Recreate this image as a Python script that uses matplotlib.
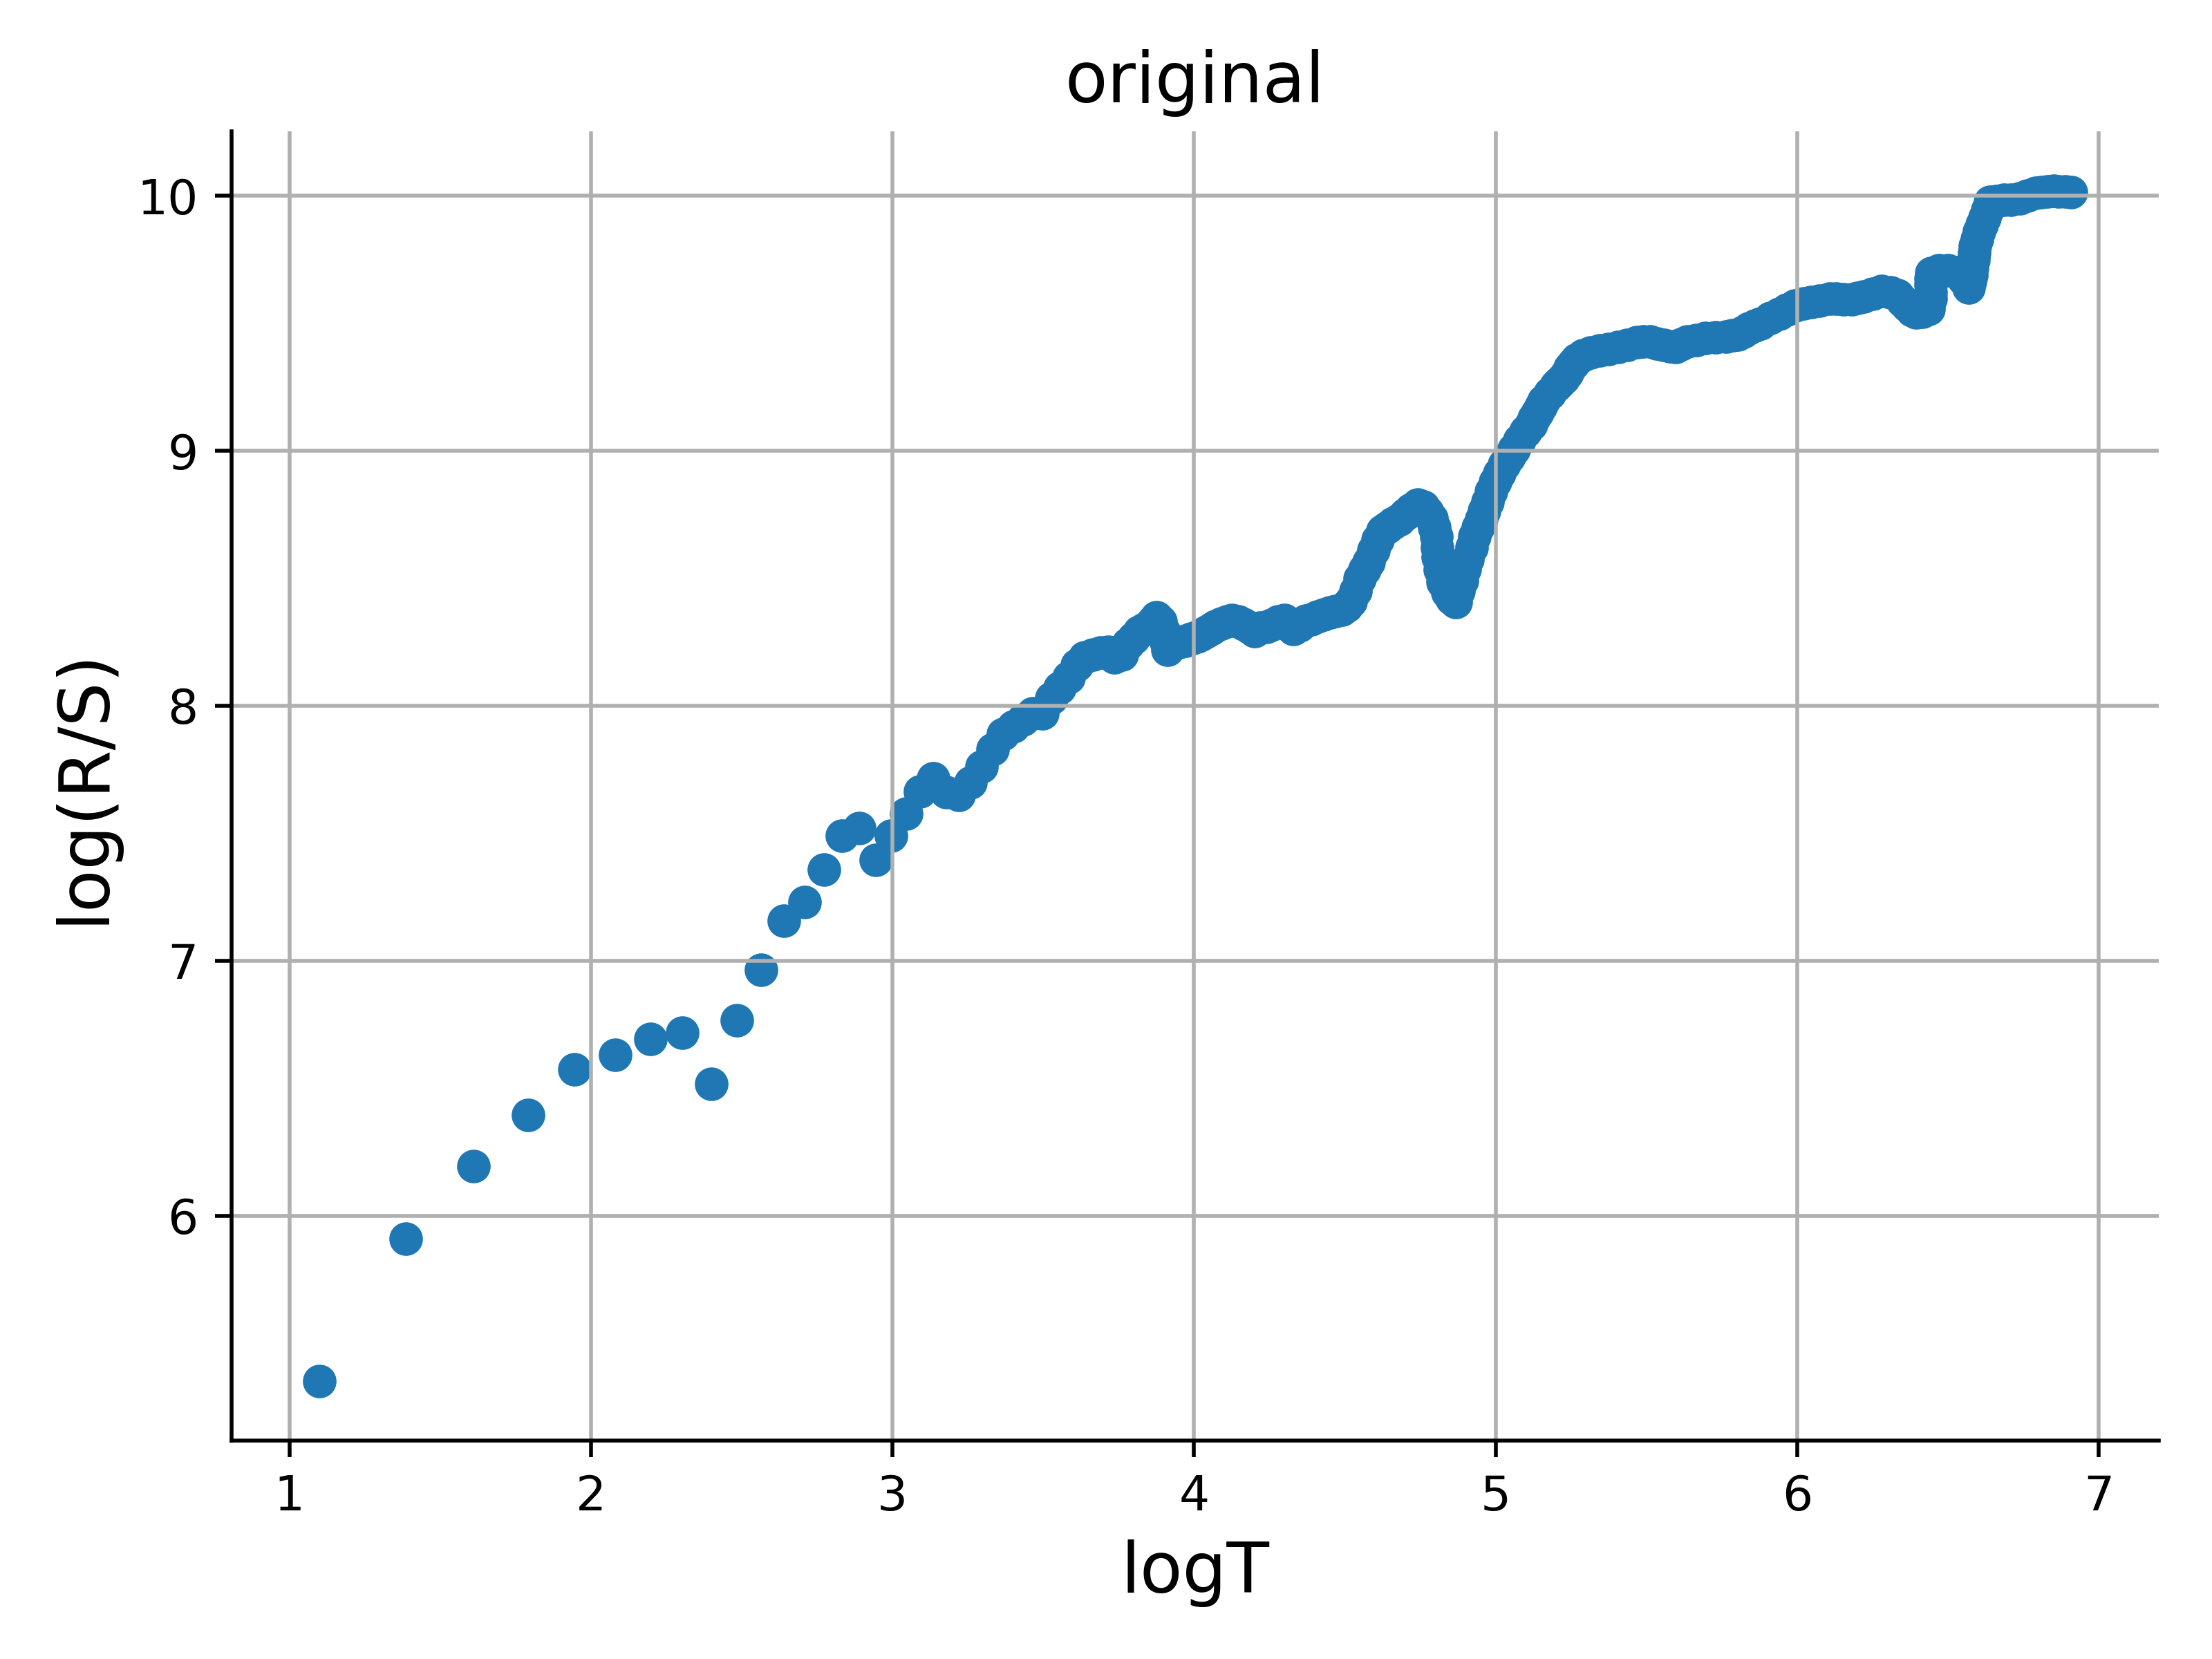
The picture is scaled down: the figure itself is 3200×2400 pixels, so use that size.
import numpy as np
import matplotlib
matplotlib.use("Agg")
import matplotlib.pyplot as plt

# Individual window sizes T (sparse part, x = log T)
T_sparse = [3, 4, 5, 6, 7, 8, 9, 10, 11, 12, 13, 14, 15, 16, 17, 18, 19, 20,
            21, 22, 23, 24, 25, 26, 27, 28, 29, 30, 31, 32, 33, 34, 35, 36,
            37, 38, 39, 40]
rs_sparse = [5.352, 5.910, 6.194, 6.394, 6.575, 6.630, 6.692, 6.718, 6.517,
             6.765, 6.963, 7.157, 7.230, 7.358, 7.491, 7.520, 7.394, 7.490,
             7.578, 7.665, 7.715, 7.660, 7.651, 7.700, 7.760, 7.830, 7.890,
             7.918, 7.946, 7.970, 7.970, 8.030, 8.070, 8.110, 8.160, 8.190,
             8.200, 8.208]

# Dense part (read along the thick band), logT and log(R/S)
logT_dense = [
    3.714, 3.735, 3.760, 3.781, 3.800, 3.819, 3.835, 3.850, 3.864, 3.876,
    3.890, 3.900, 3.907, 3.912, 3.930, 3.950, 3.972, 3.990, 4.010, 4.025,
    4.040, 4.057, 4.071, 4.090, 4.110, 4.126, 4.145, 4.164, 4.185, 4.202,
    4.220, 4.240, 4.256, 4.280, 4.300, 4.315, 4.330, 4.350, 4.370, 4.390,
    4.410, 4.430, 4.450, 4.470, 4.490, 4.505, 4.520, 4.535, 4.550, 4.565,
    4.580, 4.595, 4.610, 4.625, 4.640, 4.660, 4.680, 4.700, 4.720, 4.742,
    4.760, 4.775, 4.788, 4.797, 4.803, 4.807, 4.809, 4.815, 4.825, 4.840,
    4.855, 4.868, 4.878, 4.888, 4.898, 4.908, 4.920, 4.931, 4.942, 4.952,
    4.963, 4.973, 4.986, 4.998, 5.012, 5.028, 5.045, 5.060, 5.080, 5.100,
    5.117, 5.128, 5.138, 5.150, 5.160, 5.180, 5.200, 5.212, 5.225, 5.236,
    5.247, 5.258, 5.269, 5.290, 5.315, 5.346, 5.375, 5.407, 5.437, 5.468,
    5.490, 5.513, 5.536, 5.559, 5.578, 5.597, 5.615, 5.635, 5.665, 5.696,
    5.730, 5.765, 5.785, 5.803, 5.822, 5.841, 5.860, 5.880, 5.910, 5.940,
    5.967, 5.994, 6.020, 6.047, 6.075, 6.108, 6.128, 6.155, 6.182, 6.200,
    6.220, 6.250, 6.281, 6.310, 6.334, 6.350, 6.365, 6.380, 6.395, 6.415,
    6.437, 6.443, 6.442, 6.443, 6.444, 6.446, 6.470, 6.500, 6.530, 6.550,
    6.569, 6.574, 6.578, 6.581, 6.585, 6.587, 6.589, 6.596, 6.603, 6.612,
    6.622, 6.630, 6.641, 6.660, 6.687, 6.710, 6.738, 6.765, 6.792, 6.810,
    6.830, 6.850, 6.868, 6.890, 6.908]
rs_dense = [
    8.210, 8.190, 8.200, 8.243, 8.265, 8.290, 8.300, 8.312, 8.330, 8.347,
    8.330, 8.290, 8.250, 8.220, 8.240, 8.250, 8.256, 8.262, 8.270, 8.280,
    8.290, 8.300, 8.312, 8.322, 8.330, 8.337, 8.330, 8.320, 8.305, 8.293,
    8.305, 8.310, 8.316, 8.330, 8.335, 8.315, 8.300, 8.315, 8.332, 8.340,
    8.350, 8.358, 8.365, 8.370, 8.378, 8.390, 8.410, 8.450, 8.500, 8.535,
    8.565, 8.610, 8.650, 8.685, 8.700, 8.715, 8.728, 8.750, 8.770, 8.790,
    8.780, 8.760, 8.735, 8.700, 8.663, 8.620, 8.582, 8.535, 8.486, 8.445,
    8.420, 8.407, 8.450, 8.490, 8.536, 8.575, 8.620, 8.663, 8.700, 8.731,
    8.765, 8.800, 8.840, 8.878, 8.912, 8.945, 8.977, 9.005, 9.040, 9.075,
    9.104, 9.127, 9.150, 9.175, 9.195, 9.225, 9.255, 9.270, 9.285, 9.305,
    9.325, 9.342, 9.358, 9.375, 9.385, 9.394, 9.400, 9.406, 9.415, 9.426,
    9.428, 9.428, 9.420, 9.415, 9.410, 9.408, 9.418, 9.428, 9.435, 9.441,
    9.445, 9.448, 9.452, 9.457, 9.468, 9.480, 9.490, 9.500, 9.520, 9.537,
    9.553, 9.569, 9.578, 9.584, 9.590, 9.598, 9.597, 9.595, 9.595, 9.600,
    9.606, 9.617, 9.627, 9.620, 9.610, 9.590, 9.570, 9.550, 9.543, 9.545,
    9.555, 9.596, 9.620, 9.650, 9.675, 9.696, 9.708, 9.708, 9.700, 9.675,
    9.639, 9.665, 9.690, 9.720, 9.750, 9.777, 9.804, 9.830, 9.859, 9.886,
    9.913, 9.945, 9.976, 9.978, 9.985, 9.985, 9.990, 10.000, 10.012, 10.015,
    10.018, 10.020, 10.018, 10.018, 10.015]

x = np.concatenate([np.log(np.array(T_sparse, dtype=float)), np.array(logT_dense)])
y = np.concatenate([np.array(rs_sparse), np.array(rs_dense)])

fig = plt.figure(figsize=(6.4, 4.8), dpi=500)
ax = fig.add_subplot(111)
fig.subplots_adjust(left=0.1047, right=0.9758, bottom=0.1318, top=0.9209)

ax.scatter(x, y, color="#1f77b4")
ax.grid(True)
ax.spines["top"].set_visible(False)
ax.spines["right"].set_visible(False)
ax.set_title("original", fontsize=14.5)
ax.set_xlabel("logT", fontsize=14.5)
ax.set_ylabel("log(R/S)", fontsize=14.5)

fig.savefig("out.png", dpi=500)
